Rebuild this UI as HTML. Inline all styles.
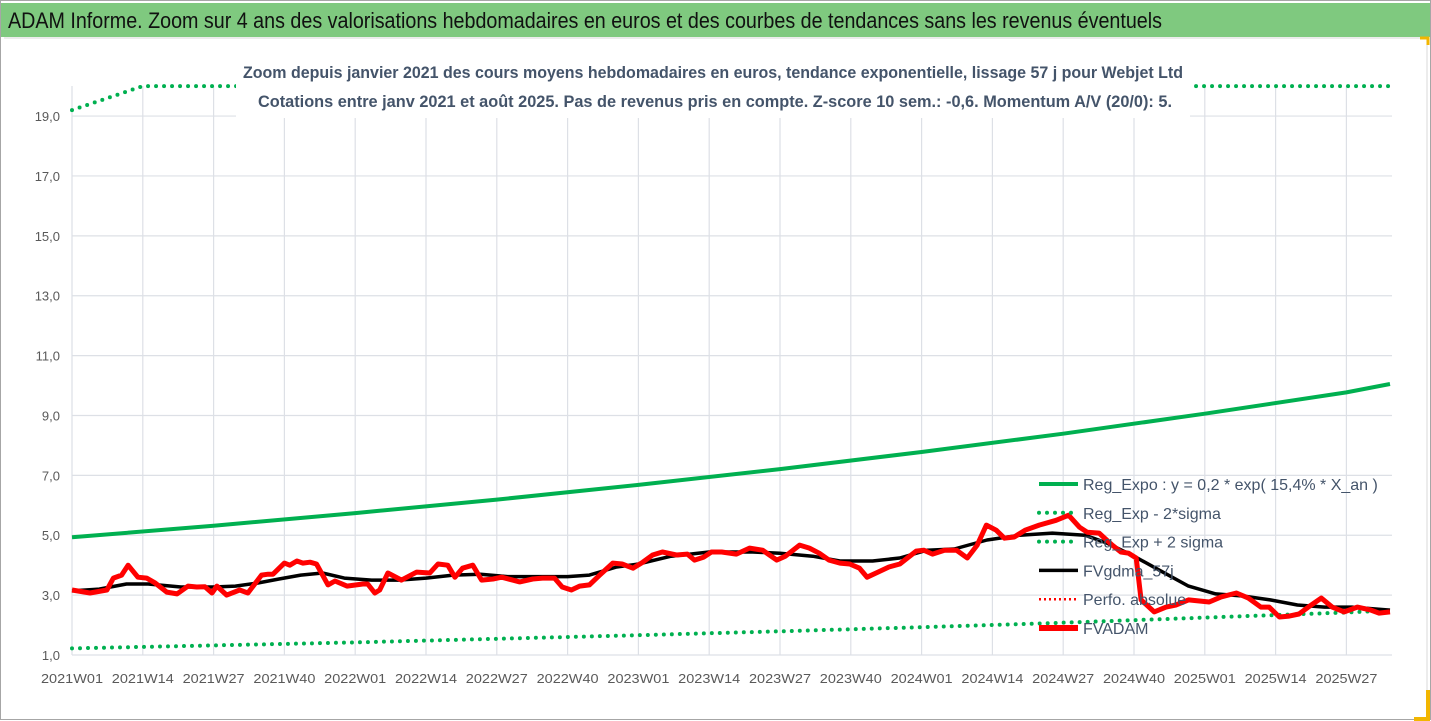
<!DOCTYPE html>
<html><head><meta charset="utf-8"><style>
html,body{margin:0;padding:0;background:#fff;}
svg{display:block;font-family:"Liberation Sans",sans-serif;}
</style></head><body>
<svg id="chart" width="1431" height="721" viewBox="0 0 1431 721" xmlns="http://www.w3.org/2000/svg">
<rect x="0" y="0" width="1431" height="721" fill="#fff"/>
<rect x="0.5" y="0.5" width="1430" height="719" fill="none" stroke="#a6a6a6"/>
<rect x="1" y="3" width="1429" height="34" fill="#7fc97f"/>
<text x="8" y="28" font-size="22" fill="#111" textLength="1154" lengthAdjust="spacingAndGlyphs">ADAM Informe. Zoom sur 4 ans des valorisations hebdomadaires en euros et des courbes de tendances sans les revenus éventuels</text>
<line x1="4" y1="38" x2="1427" y2="38" stroke="#d9d9d9"/>
<line x1="1427" y1="38" x2="1427" y2="718" stroke="#d9d9d9"/>
<path d="M1420 38 H1428 V45" fill="none" stroke="#f2b600" stroke-width="3"/>
<path d="M1428 690 V719 H1414" fill="none" stroke="#f2b600" stroke-width="4"/>
<g id="grid"></g>
<g id="series"></g>
<rect x="236" y="52" width="954" height="66" fill="#fff"/>
<text x="243" y="78" font-size="17" font-weight="bold" fill="#44546a" textLength="940" lengthAdjust="spacingAndGlyphs">Zoom depuis janvier 2021 des cours moyens hebdomadaires en euros, tendance exponentielle, lissage 57 j pour Webjet Ltd</text>
<text x="258" y="107" font-size="17" font-weight="bold" fill="#44546a" textLength="914" lengthAdjust="spacingAndGlyphs">Cotations entre janv 2021 et août 2025. Pas de revenus pris en compte. Z-score 10 sem.: -0,6. Momentum A/V (20/0): 5.</text>
<g id="axes"></g>
<g id="legend"></g>
</svg>
<script>
// ---- data ----
const xTickLabels = ["2021W01","2021W14","2021W27","2021W40","2022W01","2022W14","2022W27","2022W40","2023W01","2023W14","2023W27","2023W40","2024W01","2024W14","2024W27","2024W40","2025W01","2025W14","2025W27"];
const yTickValues = [1,3,5,7,9,11,13,15,17,19];
const yTickLabels = ["1,0","3,0","5,0","7,0","9,0","11,0","13,0","15,0","17,0","19,0"];
const fvadamWeeks = [0,3.3,6.4,7.6,9.1,10.3,12.1,13.7,15.3,17.4,19.3,21.3,22.9,24.4,25.7,26.6,28.4,30.8,32.3,34.8,36,36.9,39,40,41.3,42.4,43.7,44.9,47,48.3,50.5,53.4,54.3,55.6,56.5,58,60.5,63.3,65.7,67.2,69,70.3,71.7,73.6,75.2,77.3,78.9,80.9,82.2,84.6,86.4,88.6,90,91.7,93.2,95,96.9,99.3,101,103,104.8,106.6,108.4,111,113,114.3,116,117.4,119.3,122,124.4,126.8,129.4,131,133.6,135.4,137.2,139,141,142.8,144.6,146,148,150,152,153.4,155,156.4,158,160.2,162.4,164.4,166.2,167.9,169.7,171.2,173,175,177.6,180.7,183,185,186.4,188.6,191,192.6,194,195.4,196.3,198.7,200.9,202.7,205,208.8,211,213.8,216,218.3,219.8,221.7,223.5,225.3,227,229.4,231.4,233.6,236,238.5,240,242];
const fvadamValues = [3.17,3.07,3.17,3.57,3.67,4.0,3.6,3.57,3.4,3.1,3.04,3.3,3.27,3.28,3.07,3.3,3.0,3.17,3.07,3.67,3.7,3.7,4.07,4.0,4.14,4.07,4.1,4.04,3.34,3.47,3.3,3.37,3.37,3.07,3.17,3.74,3.5,3.77,3.74,4.04,4.0,3.6,3.9,4.0,3.5,3.54,3.6,3.5,3.44,3.54,3.57,3.57,3.27,3.17,3.3,3.34,3.67,4.07,4.04,3.9,4.1,4.34,4.44,4.34,4.37,4.17,4.27,4.44,4.44,4.37,4.57,4.5,4.17,4.3,4.67,4.57,4.4,4.17,4.07,4.04,3.9,3.6,3.77,3.94,4.04,4.24,4.47,4.5,4.37,4.5,4.5,4.24,4.67,5.34,5.17,4.9,4.94,5.17,5.34,5.5,5.67,5.27,5.1,5.07,4.67,4.44,4.4,4.24,2.84,2.44,2.6,2.67,2.84,2.77,2.94,3.07,2.9,2.6,2.6,2.27,2.3,2.37,2.6,2.9,2.6,2.44,2.6,2.5,2.4,2.44];
const gdmaWeeks = [0,5,10,14,20,26,30,34,38,42,46,50,55,60,65,70,75,80,85,91,95,100,104,110,117,125,130,136,141,147,152,157,162,168,174,180,186,190,195,200,205,210,215,220,225,230,235,242];
const gdmaValues = [3.14,3.2,3.37,3.37,3.27,3.27,3.3,3.4,3.54,3.67,3.74,3.57,3.5,3.5,3.57,3.67,3.7,3.62,3.62,3.62,3.67,3.94,4.04,4.3,4.44,4.44,4.4,4.3,4.14,4.14,4.24,4.5,4.54,4.84,5.0,5.07,5.0,4.74,4.3,3.8,3.3,3.04,2.97,2.84,2.67,2.6,2.6,2.5];
const regWeeks = [0,26,52,78,104,130,156,182,208,234,242];
const regValues = [4.93,5.32,5.74,6.19,6.68,7.21,7.78,8.39,9.06,9.77,10.05];
const lowerValues = [1.22,1.32,1.42,1.54,1.66,1.79,1.93,2.08,2.25,2.42,2.49];
const upperWeeks = [0,13,242];
const upperValues = [19.2,20,20];

// ---- axes ----
const X0=72, PXW=70.8/13, YBASE=655, PXU=29.94, XR=1392, YTOP=86;
const xs = w => X0 + w*PXW;
const ys = v => YBASE - (v-1)*PXU;
const NS="http://www.w3.org/2000/svg";
function mk(tag, attrs, parent){const e=document.createElementNS(NS,tag);for(const k in attrs)e.setAttribute(k,attrs[k]);parent.appendChild(e);return e;}
const grid=document.getElementById('grid'), ser=document.getElementById('series'), axes=document.getElementById('axes'), leg=document.getElementById('legend');

yTickValues.forEach((v,i)=>{
  const l=mk('line',{x1:X0,x2:XR,y1:ys(v),y2:ys(v),stroke:'#dde0e6','stroke-width':1.2},grid);
  
  
  const t=mk('text',{x:60,y:ys(v)+5,'font-size':13,fill:'#595959','text-anchor':'end'},axes);
  t.textContent=yTickLabels[i];
  
  
});
xTickLabels.forEach((lab,i)=>{
  const x=xs(i*13);
  const l=mk('line',{x1:x,x2:x,y1:YTOP,y2:YBASE,stroke:'#dde0e6','stroke-width':1.2},grid);
  
  
  const t=mk('text',{x:x,y:683,'font-size':13,fill:'#595959','text-anchor':'middle',textLength:62,lengthAdjust:'spacingAndGlyphs'},axes);
  t.textContent=lab;
  
  
});

function path(weeks, vals){return weeks.map((w,i)=>(i?'L':'M')+xs(w).toFixed(1)+' '+ys(vals[i]).toFixed(1)).join(' ');}
function line(weeks, vals, style, name){
  const p=mk('path',Object.assign({d:path(weeks,vals),fill:'none','stroke-linejoin':'round'},style),ser);
  
  
}
const dotted={stroke:'#00b050','stroke-width':4,'stroke-dasharray':'0 8','stroke-linecap':'round'};
line(upperWeeks, upperValues, dotted, 'reg-exp-plus-2-sigma-line');
line(regWeeks, lowerValues, dotted, 'reg-exp-minus-2-sigma-line');
line(regWeeks, regValues, {stroke:'#00b050','stroke-width':4}, 'reg-expo-line');
line(gdmaWeeks, gdmaValues, {stroke:'#000','stroke-width':3.5}, 'fvgdma-57j-line');
line(fvadamWeeks, fvadamValues, {stroke:'#ff0000','stroke-width':5}, 'fvadam-line');

// ---- legend ----
const legendItems=[
 ["Reg_Expo : y = 0,2 * exp( 15,4% *  X_an )",{stroke:'#00b050','stroke-width':4}],
 ["Reg_Exp - 2*sigma",{stroke:'#00b050','stroke-width':4,'stroke-dasharray':'0 8','stroke-linecap':'round'}],
 ["Reg_Exp + 2 sigma",{stroke:'#00b050','stroke-width':4,'stroke-dasharray':'0 8','stroke-linecap':'round'}],
 ["FVgdma_57j",{stroke:'#000','stroke-width':3.5}],
 ["Perfo. absolue",{stroke:'#ff0000','stroke-width':2.5,'stroke-dasharray':'2 3'}],
 ["FVADAM",{stroke:'#ff0000','stroke-width':6}]
];
legendItems.forEach((it,i)=>{
  const y=484+i*28.8;
  const l=mk('line',Object.assign({x1:1039,x2:1078,y1:y,y2:y},it[1]),leg);
  
  
  const t=mk('text',{x:1083,y:y+6,'font-size':16,fill:'#44546a'},leg);
  t.textContent=it[0];
  
  
});
</script>
</body></html>
